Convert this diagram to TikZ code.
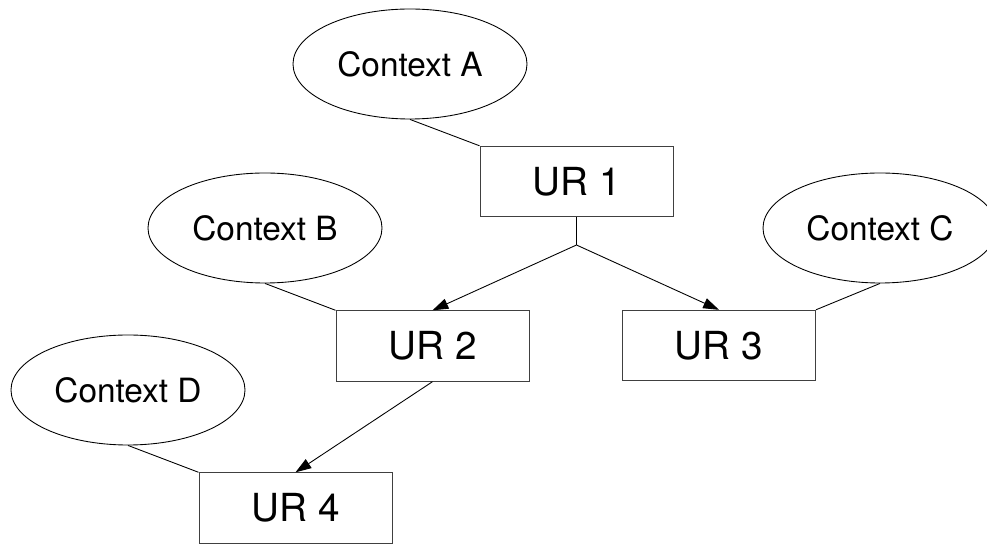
\documentclass[tikz,border=0pt]{standalone}
\usepackage{fontspec}
\setmainfont{TeX Gyre Heros}
\usetikzlibrary{shapes.geometric,arrows.meta}
\begin{document}
\begin{tikzpicture}[>={Triangle[length=9pt,width=6pt]}, line width=0.5pt,
  ctx/.style={draw, ellipse, inner sep=0pt, minimum width=4.68cm, minimum height=2.2cm, font=\fontsize{19}{22}\selectfont},
  urbox/.style={draw=black!75, rectangle, minimum width=3.86cm, minimum height=1.41cm, font=\fontsize{22}{26}\selectfont}]
\useasboundingbox (0,0) rectangle (19.74,10.88);

\node[ctx] (ctxA) at (8.2, 9.6){Context A};
\node[ctx] (ctxB) at (5.3, 6.32){Context B};
\node[ctx] (ctxC) at (17.6, 6.32){Context C};
\node[ctx] (ctxD) at (2.56, 3.08){Context D};

\node[urbox] (ur1) at (11.53, 7.25){UR 1};
\node[urbox] (ur2) at (8.65, 3.96){UR 2};
\node[urbox] (ur3) at (14.38, 3.97){UR 3};
\node[urbox] (ur4) at (5.91, 0.72){UR 4};

\coordinate (split) at (11.53, 5.98);
\draw (ur1.south)--(split);
\draw [->] (split)--(ur2.north);
\draw [->] (split)--(ur3.north);
\draw [->] (ur2.south)--(ur4.north);

\draw (ctxA.south)--(ur1.north west);
\draw (ctxB.south)--(ur2.north west);
\draw (ctxC.south)--(ur3.north east);
\draw (ctxD.south)--(ur4.north west);
\end{tikzpicture}
\end{document}
